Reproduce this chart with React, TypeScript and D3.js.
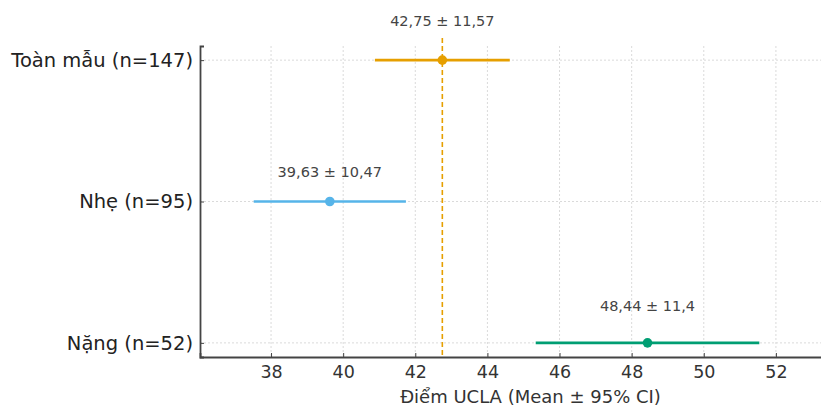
import React, { useEffect, useRef } from 'react';
import * as d3 from 'd3';

// groups, top to bottom
const groups = ['Toàn mẫu (n=147)', 'Nhẹ (n=95)', 'Nặng (n=52)'];
const means = [42.75, 39.63, 48.44];
const sds = [11.57, 10.47, 11.4];
// 95% CI ends
const ciLow = [40.88, 37.52, 45.34];
const ciHigh = [44.62, 41.74, 51.54];
const colors = ['#E69F00', '#56B4E9', '#009E73'];
const xTicks = [38, 40, 42, 44, 46, 48, 50, 52];
const refMean = 42.75;

const fmt = (v: number) => String(v).replace('.', ',');

const App = () => {
  const svgRef = useRef<SVGSVGElement>(null);

  useEffect(() => {
    const svg = d3.select(svgRef.current);
    svg.selectAll('*').remove();

    const width = 821;
    const height = 408;
    // the axes run a bit past the right edge of the picture (it was cropped)
    const margin = { top: 46, right: -40, bottom: 51, left: 200 };
    const chartWidth = width - margin.left - margin.right;
    const chartHeight = height - margin.top - margin.bottom;
    const font = 'DejaVu Sans, sans-serif';

    const chart = svg
      .attr('width', width)
      .attr('height', height)
      .append('g')
      .attr('transform', `translate(${margin.left},${margin.top})`);

    const x = d3.scaleLinear().domain([36.03, 54.36]).range([0, chartWidth]);
    const y = d3.scaleLinear().domain([-0.1, 2.1]).range([0, chartHeight]);

    // grid
    chart.selectAll('.vgrid')
      .data(xTicks)
      .enter()
      .append('line')
      .attr('x1', d => x(d))
      .attr('x2', d => x(d))
      .attr('y1', 0)
      .attr('y2', chartHeight)
      .style('stroke', '#d6d6d6')
      .style('stroke-width', 0.9)
      .style('stroke-dasharray', '2,2');

    chart.selectAll('.hgrid')
      .data(groups)
      .enter()
      .append('line')
      .attr('x1', 0)
      .attr('x2', chartWidth)
      .attr('y1', (d, i) => y(i))
      .attr('y2', (d, i) => y(i))
      .style('stroke', '#d6d6d6')
      .style('stroke-width', 0.9)
      .style('stroke-dasharray', '2,2');

    // reference line at overall mean
    chart.append('line')
      .attr('x1', x(refMean))
      .attr('x2', x(refMean))
      .attr('y1', -8)
      .attr('y2', chartHeight)
      .style('stroke', colors[0])
      .style('stroke-width', 1.6)
      .style('stroke-dasharray', '5,3');

    // CI bars
    chart.selectAll('.ci')
      .data(groups)
      .enter()
      .append('line')
      .attr('x1', (d, i) => x(ciLow[i]))
      .attr('x2', (d, i) => x(ciHigh[i]))
      .attr('y1', (d, i) => y(i))
      .attr('y2', (d, i) => y(i))
      .style('stroke', (d, i) => colors[i])
      .style('stroke-width', 2.6);

    chart.selectAll('.dot')
      .data(groups)
      .enter()
      .append('circle')
      .attr('cx', (d, i) => x(means[i]))
      .attr('cy', (d, i) => y(i))
      .attr('r', 4.8)
      .style('fill', (d, i) => colors[i]);

    // annotations
    const labelOffset = [38, 29, 36];
    chart.selectAll('.ann')
      .data(groups)
      .enter()
      .append('text')
      .attr('x', (d, i) => x(means[i]))
      .attr('y', (d, i) => y(i) - labelOffset[i])
      .attr('text-anchor', 'middle')
      .attr('dominant-baseline', 'middle')
      .style('font-family', font)
      .style('font-size', '14.5px')
      .style('fill', '#444')
      .text((d, i) => `${fmt(means[i])} ± ${fmt(sds[i])}`);

    // x axis
    const xAxis = chart.append('g')
      .attr('transform', `translate(0,${chartHeight})`)
      .call(d3.axisBottom(x).tickValues(xTicks).tickSize(-4).tickPadding(9));
    xAxis.select('.domain').style('stroke', '#444').style('stroke-width', 1.8);
    xAxis.selectAll('line').style('stroke', '#444');
    xAxis.selectAll('text')
      .style('font-family', font)
      .style('font-size', '17.5px')
      .style('fill', '#333');

    // y axis
    const yAxis = chart.append('g')
      .call(d3.axisLeft(y)
        .tickValues([0, 1, 2])
        .tickFormat((d: any) => groups[d])
        .tickSize(-4)
        .tickPadding(7));
    yAxis.select('.domain').style('stroke', '#444').style('stroke-width', 1.8);
    yAxis.selectAll('line').style('stroke', '#444');
    yAxis.selectAll('text')
      .style('font-family', font)
      .style('font-size', '19.5px')
      .style('fill', '#222');

    chart.append('text')
      .attr('x', chartWidth / 2)
      .attr('y', chartHeight + 46)
      .attr('text-anchor', 'middle')
      .style('font-family', font)
      .style('font-size', '18px')
      .style('fill', '#333')
      .text('Điểm UCLA (Mean ± 95% CI)');
  }, []);

  return (
    <div style={{ position: 'absolute', left: 0, top: 0 }}>
      <svg ref={svgRef}></svg>
    </div>
  );
};

export default App;
